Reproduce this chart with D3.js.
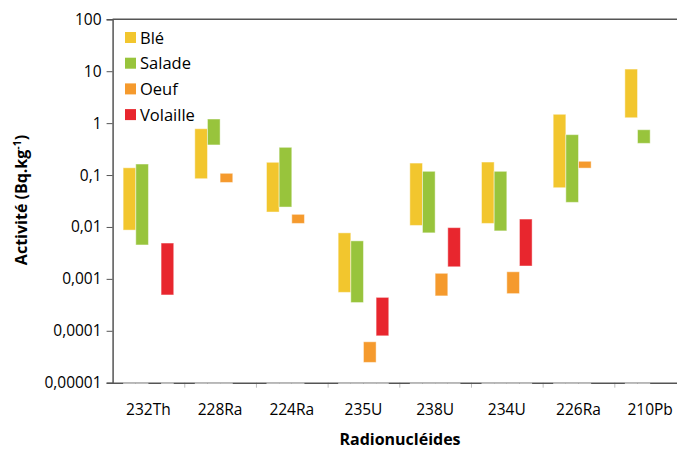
<!DOCTYPE html>
<html>
<head>
<meta charset="utf-8">
<script src="https://cdn.jsdelivr.net/npm/d3@7"></script>
<style>
  html, body { margin: 0; padding: 0; background: #fff; }
  svg { display: block; font-family: "Open Sans", "Noto Sans", sans-serif; }
</style>
</head>
<body>
<svg id="chart" width="677" height="450"></svg>
<script>
// Radionuclide activity ranges (min–max, Bq.kg-1) per food type
const categories = ["232Th", "228Ra", "224Ra", "235U", "238U", "234U", "226Ra", "210Pb"];
const seriesNames = ["Blé", "Salade", "Oeuf", "Volaille"];
const seriesColors = ["#F2C62E", "#98C43C", "#F59A2D", "#E8262E"];

const bleLow       = [0.0087, 0.085, 0.0194, 0.00055, 0.0107, 0.0117, 0.057, 1.27];
const bleHigh      = [0.138, 0.78, 0.176, 0.0077, 0.170, 0.178, 1.48, 11.0];
const saladeLow    = [0.0045, 0.38, 0.0242, 0.00035, 0.0077, 0.0084, 0.0298, 0.408];
const saladeHigh   = [0.163, 1.2, 0.342, 0.0054, 0.118, 0.118, 0.60, 0.746];
const oeufLow      = [null, 0.072, 0.0117, 0.0000246, 0.00047, 0.00052, 0.136, null];
const oeufHigh     = [null, 0.108, 0.0175, 0.0000614, 0.00128, 0.00137, 0.184, null];
const volailleLow  = [0.00049, null, null, 0.00008, 0.00171, 0.00177, null, null];
const volailleHigh = [0.0049, null, null, 0.00044, 0.0097, 0.0142, null, null];

const yTickValues = [100, 10, 1, 0.1, 0.01, 0.001, 0.0001, 0.00001];
const yTickLabels = ["100", "10", "1", "0,1", "0,01", "0,001", "0,0001", "0,00001"];

const lows  = [bleLow, saladeLow, oeufLow, volailleLow];
const highs = [bleHigh, saladeHigh, oeufHigh, volailleHigh];

const rows = [];
seriesNames.forEach((s, si) => {
  categories.forEach((c, ci) => {
    if (lows[si][ci] != null && highs[si][ci] != null) {
      rows.push({ series: s, cat: c, low: lows[si][ci], high: highs[si][ci], color: seriesColors[si] });
    }
  });
});

const svg = d3.select("#chart");
const margin = { left: 112.6, top: 19.3, bottom: 382.7 };
const plotRight = 686;

const x0 = d3.scaleBand().domain(categories).range([margin.left, plotRight]).padding(0);
const x1 = d3.scaleBand().domain(seriesNames).range([0, x0.bandwidth()])
  .paddingInner(0).paddingOuter(0.833);
const y = d3.scaleLog().domain([0.00001, 100]).range([margin.bottom, margin.top]);

// Category separator ticks (light grey, below the axis)
svg.append("g").selectAll("line")
  .data(categories.slice(1))
  .join("line")
  .attr("x1", d => x0(d) + 0.5).attr("x2", d => x0(d) + 0.5)
  .attr("y1", margin.bottom).attr("y2", margin.bottom + 5)
  .attr("stroke", "#bdbdbd").attr("stroke-width", 1);

// X axis line
svg.append("line")
  .attr("x1", margin.left).attr("x2", plotRight)
  .attr("y1", margin.bottom + 0.5).attr("y2", margin.bottom + 0.5)
  .attr("stroke", "#555").attr("stroke-width", 1.5);

// Bar bases sit on the axis and lighten it under each drawn range
svg.append("g").selectAll("line")
  .data(rows)
  .join("line")
  .attr("x1", d => x0(d.cat) + x1(d.series))
  .attr("x2", d => x0(d.cat) + x1(d.series) + x1.bandwidth())
  .attr("y1", margin.bottom + 0.5).attr("y2", margin.bottom + 0.5)
  .attr("stroke", "#c4c4c4").attr("stroke-width", 1.5);

// Top frame line
svg.append("line")
  .attr("x1", margin.left).attr("x2", plotRight)
  .attr("y1", margin.top).attr("y2", margin.top)
  .attr("stroke", "#555").attr("stroke-width", 1.5);

// Y axis
const yAxis = d3.axisLeft(y)
  .tickValues(yTickValues)
  .tickFormat((d, i) => yTickLabels[i])
  .tickSize(6).tickPadding(5);
const gy = svg.append("g").attr("transform", `translate(${margin.left},0)`).call(yAxis);
gy.select(".domain").attr("stroke", "#555").attr("stroke-width", 1.5);
gy.selectAll(".tick line").attr("stroke", "#555");
gy.selectAll(".tick text")
  .attr("font-family", "'Open Sans', sans-serif")
  .attr("font-size", 15.5).attr("fill", "#000");

// Floating range bars
svg.append("g").selectAll("rect")
  .data(rows)
  .join("rect")
  .attr("x", d => x0(d.cat) + x1(d.series))
  .attr("width", x1.bandwidth())
  .attr("y", d => y(d.high))
  .attr("height", d => y(d.low) - y(d.high))
  .attr("fill", d => d.color)
  .attr("stroke", "rgba(255,255,255,0.45)")
  .attr("stroke-width", 1);

// X category labels
svg.append("g").selectAll("text")
  .data(categories)
  .join("text")
  .attr("x", d => x0(d) + x0.bandwidth() / 2)
  .attr("y", 415)
  .attr("text-anchor", "middle")
  .attr("font-size", 15.5).attr("fill", "#000")
  .text(d => d);

// Axis titles
svg.append("text")
  .attr("x", 400).attr("y", 445)
  .attr("text-anchor", "middle")
  .attr("font-size", 16).attr("font-weight", "bold").attr("fill", "#000")
  .text("Radionucléides");

const yTitle = svg.append("text")
  .attr("transform", "translate(27,200) rotate(-90)")
  .attr("text-anchor", "middle")
  .attr("font-size", 16).attr("font-weight", "bold").attr("fill", "#000");
yTitle.append("tspan").text("Activité (Bq.kg");
yTitle.append("tspan").attr("font-size", 10.5).attr("dy", -6).text("-1");
yTitle.append("tspan").attr("dy", 6).text(")");

// Legend
const legend = svg.append("g").selectAll("g")
  .data(seriesNames)
  .join("g")
  .attr("transform", (d, i) => `translate(125,${32 + i * 25.7})`);
legend.append("rect")
  .attr("width", 11).attr("height", 11)
  .attr("fill", (d, i) => seriesColors[i]);
legend.append("text")
  .attr("x", 15).attr("y", 11.5)
  .attr("font-size", 16.5).attr("fill", "#000")
  .text(d => d);
</script>
</body>
</html>
